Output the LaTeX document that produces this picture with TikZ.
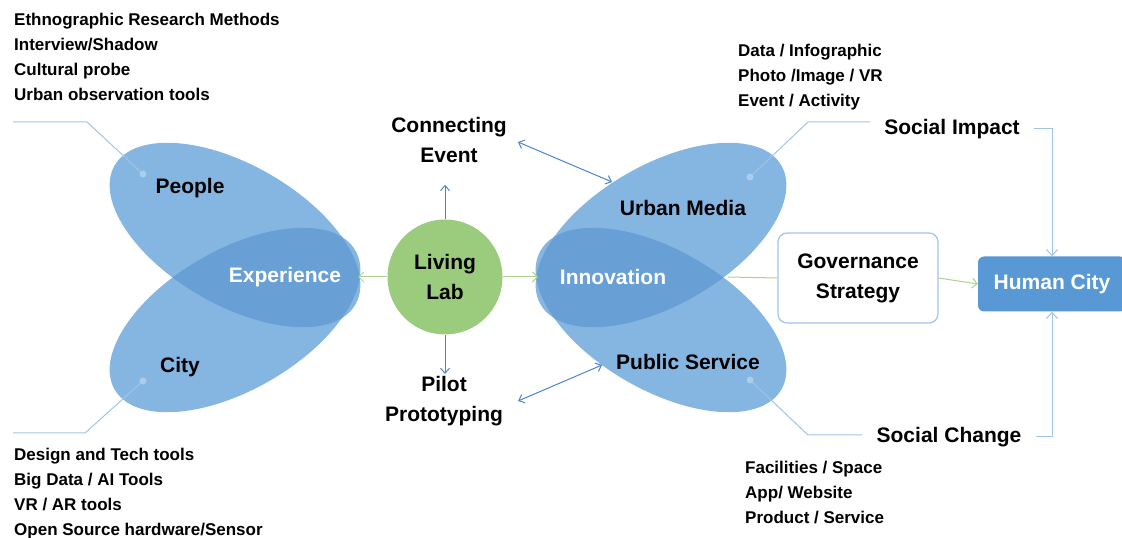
\documentclass[tikz,border=0pt]{standalone}
\usepackage{fontspec}
\setmainfont{Liberation Sans}
\usepackage{tikz}
\usetikzlibrary{positioning}
\usetikzlibrary{shapes.geometric,arrows.meta,calc}
\definecolor{petal}{RGB}{133,182,226}
\definecolor{lens}{RGB}{104,160,214}
\definecolor{dotblue}{RGB}{172,204,236}
\definecolor{leadblue}{RGB}{160,196,232}
\definecolor{arrowblue}{RGB}{74,134,204}
\definecolor{labgreen}{RGB}{155,204,126}
\definecolor{linegreen}{RGB}{170,212,142}
\definecolor{cityblue}{RGB}{88,152,212}
\tikzstyle{bigtext} = [font=\bfseries\fontsize{21}{30}\selectfont, align=center, inner sep=2pt]
\tikzstyle{whitetext} = [bigtext, text=white]
\tikzstyle{sidetext} = [bigtext, inner xsep=14pt]
\tikzstyle{toollist} = [font=\bfseries\fontsize{17}{25}\selectfont, align=left, anchor=north west, inner sep=0pt]
\tikzstyle{labcircle} = [circle, fill=labgreen, minimum size=115pt, bigtext]
\tikzstyle{govbox} = [rectangle, rounded corners=9pt, draw=leadblue, line width=1.2pt, fill=white, minimum width=160pt, minimum height=90pt, bigtext]
\tikzstyle{citybox} = [rectangle, rounded corners=6pt, fill=cityblue, minimum width=148pt, minimum height=55pt, whitetext]
\tikzstyle{bluearrow} = [arrowblue, line width=1pt, -{Straight Barb[length=5pt,width=9pt]}]
\tikzstyle{dblarrow} = [arrowblue, line width=1pt, {Straight Barb[length=5pt,width=9pt]}-{Straight Barb[length=5pt,width=9pt]}]
\tikzstyle{greenarrow} = [linegreen, line width=1pt, -{Straight Barb[length=5pt,width=10pt]}]
\tikzstyle{greenline} = [linegreen, line width=1pt]
\tikzstyle{leader} = [leadblue, line width=1pt]
\tikzstyle{leadarrow} = [leader, -{Straight Barb[length=6pt,width=11pt]}]

\begin{document}
\begin{tikzpicture}[x=1pt,y=1pt]
\useasboundingbox (0,0) rectangle (1122,538);
% the two butterflies
\fill[petal, rotate around={-30:(235,303)}] (235,303) ellipse (139 and 70);
\fill[petal, rotate around={30:(235,218)}] (235,218) ellipse (139 and 70);
\fill[petal, rotate around={30:(661,303)}] (661,303) ellipse (139 and 70);
\fill[petal, rotate around={-30:(661,218)}] (661,218) ellipse (139 and 70);
\begin{scope}
\clip[rotate around={-30:(235,303)}] (235,303) ellipse (139 and 70);
\fill[lens, rotate around={30:(235,218)}] (235,218) ellipse (139 and 70);
\end{scope}
\begin{scope}
\clip[rotate around={30:(661,303)}] (661,303) ellipse (139 and 70);
\fill[lens, rotate around={-30:(661,218)}] (661,218) ellipse (139 and 70);
\end{scope}
\coordinate (exptip) at (358,261);
\coordinate (innotip) at (538,261);
\coordinate (innocross) at (728,261);
\coordinate (mediaedge) at (612,356);
\coordinate (serviceedge) at (602,173);
\coordinate (peopledot) at (143,364);
\coordinate (peoplecorner) at (87,416);
\coordinate (peopleend) at (13,416);
\coordinate (citydot) at (143,157);
\coordinate (citycorner) at (85,105);
\coordinate (cityend) at (13,105);
\coordinate (mediadot) at (750,361);
\coordinate (mediacorner) at (808,416);
\coordinate (servicedot) at (750,158);
\coordinate (servicecorner) at (808,103);
\node (people) [bigtext] at (190,350) {People};
\node (city) [bigtext] at (180,171) {City};
\node (experience) [whitetext] at (285,261) {Experience};
\node (lab) [labcircle] at (445,261) {Living\\Lab};
\node (event) [bigtext] at (449,398) {Connecting\\Event};
\node (pilot) [bigtext] at (444,137) {Pilot\\Prototyping};
\node (innovation) [whitetext] at (613,261) {Innovation};
\node (media) [bigtext] at (683,330) {Urban Media};
\node (service) [bigtext] at (688,176) {Public Service};
\node (gov) [govbox] at (858,260) {Governance\\Strategy};
\node (humancity) [citybox] at (1052,254) {Human City};
\node (impact) [sidetext] at (952,409) {Social Impact};
\node (change) [sidetext] at (949,101) {Social Change};
\node (methods) [toollist] at (14,525) {Ethnographic Research Methods\\Interview/Shadow\\Cultural probe\\Urban observation tools};
\node (tools) [toollist] at (14,90) {Design and Tech tools\\Big Data / AI Tools\\VR / AR tools\\Open Source hardware/Sensor};
\node (mediaout) [toollist] at (738,494) {Data / Infographic\\Photo /Image / VR\\Event / Activity};
\node (serviceout) [toollist] at (745,77) {Facilities / Space\\App/ Website\\Product / Service};
% connectors
\draw[greenarrow] (lab.west) -- (exptip);
\draw[greenarrow] (lab.east) -- (innotip);
\draw[greenline] (innocross) -- (gov.west);
\draw[greenarrow] (gov.east) -- (humancity.west);
\draw[bluearrow, shorten >=20pt] (lab.north) -- (lab.north |- event.south);
\draw[bluearrow] (lab.south) -- (lab.south |- pilot.north);
\draw[dblarrow] ([shift={(9,-2)}]event.east) -- (mediaedge);
\draw[dblarrow] ([shift={(13,0)}]pilot.east) -- (serviceedge);
\draw[leader] (peopledot) -- (peoplecorner) -- (peopleend);
\draw[leader] (citydot) -- (citycorner) -- (cityend);
\draw[leader] (mediadot) -- (mediacorner) -- (mediacorner -| impact.west);
\draw[leader] (servicedot) -- (servicecorner) -- (servicecorner -| change.west);
\draw[leadarrow] (impact.east) -| (humancity.north);
\draw[leadarrow] (change.east) -| (humancity.south);
\foreach \d in {peopledot,citydot,mediadot,servicedot}
  \fill[dotblue] (\d) circle (3.5);
\end{tikzpicture}
\end{document}
